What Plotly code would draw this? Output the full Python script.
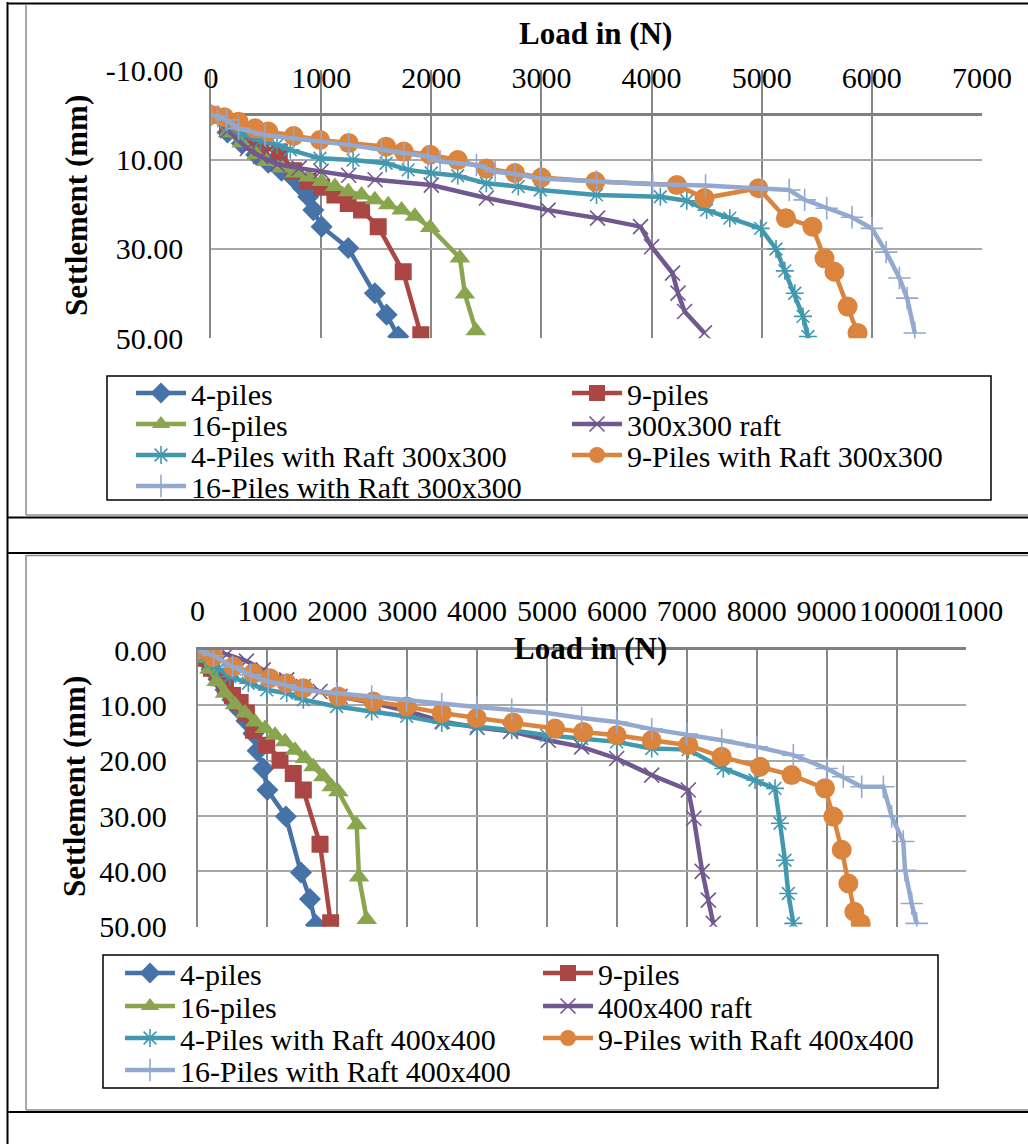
import plotly.graph_objects as go

W, H = 1028, 1144
FONT = "Liberation Serif"

# ---------------- Chart 1 data (300x300) ----------------
c1_names = ["4-piles", "9-piles", "16-piles", "300x300 raft",
            "4-Piles with Raft 300x300", "9-Piles with Raft 300x300",
            "16-Piles with Raft 300x300"]

c1_p4_load = [0, 150, 280, 410, 520, 640, 760, 830, 883, 929, 1004, 1246, 1488, 1594, 1700]
c1_p4_set = [0, 3.9, 6.4, 8.9, 10.7, 12.5, 14.4, 16.3, 18.3, 21.3, 25.0, 29.8, 39.9, 44.7, 49.6]

c1_p9_load = [0, 150, 300, 450, 620, 750, 883, 1004, 1125, 1246, 1367, 1518, 1745, 1905]
c1_p9_set = [0, 2.6, 5.2, 7.0, 8.3, 12.5, 14.9, 16.2, 17.9, 19.8, 21.3, 25.0, 35.1, 49.2]

c1_p16_load = [0, 154, 278, 414, 505, 641, 762, 883, 1004, 1125, 1246, 1367, 1488, 1609,
               1730, 1851, 1990, 2260, 2305, 2405]
c1_p16_set = [0, 4.0, 6.3, 8.9, 10.4, 11.9, 13.0, 13.9, 14.9, 16.0, 17.2, 17.9, 19.0, 20.1,
              21.3, 22.7, 25.2, 32.0, 40.1, 48.3]

c1_raft_load = [0, 150, 330, 450, 600, 800, 1000, 1250, 1490, 2000, 2500, 3060, 3510, 3900,
                4000, 4190, 4240, 4300, 4480]
c1_raft_set = [0, 3.5, 7.5, 9.3, 11.0, 11.9, 12.6, 13.5, 14.5, 15.7, 18.6, 21.3, 23.1, 25.0,
               29.5, 35.4, 39.9, 44.0, 48.8]

c1_pr4_load = [0, 150, 300, 450, 600, 720, 990, 1290, 1590, 1790, 2000, 2240, 2500, 2790,
               2990, 3500, 4080, 4320, 4500, 4710, 4990, 5130, 5210, 5300, 5375, 5420]
c1_pr4_set = [0, 2.5, 4.3, 5.8, 6.7, 7.8, 9.7, 10.1, 10.8, 12.3, 13.0, 13.6, 15.3, 16.0,
              16.8, 17.9, 18.3, 19.2, 21.3, 23.1, 25.4, 30.0, 34.9, 39.9, 45.1, 49.6]

c1_pr9_load = [0, 120, 250, 400, 520, 750, 990, 1250, 1590, 1750, 1990, 2240, 2500, 2760,
               3000, 3490, 4230, 4480, 4970, 5220, 5460, 5570, 5660, 5780, 5870]
c1_pr9_set = [0, 0.5, 1.5, 3.0, 3.7, 4.7, 5.6, 6.3, 7.1, 8.2, 8.9, 10.1, 12.0, 13.0,
              14.0, 14.9, 15.7, 18.6, 16.4, 23.1, 25.0, 32.1, 35.1, 42.9, 48.8]

c1_pr16_load = [0, 60, 140, 250, 490, 750, 1000, 1250, 1550, 1750, 1970, 2080, 2410, 2580,
                2760, 2990, 3500, 4010, 4490, 5000, 5250, 5390, 5590, 5820, 6000, 6130,
                6250, 6320, 6390]
c1_pr16_set = [0, 0.3, 1.1, 3.0, 4.5, 5.2, 6.0, 6.7, 7.8, 8.6, 9.3, 10.4, 11.2, 12.7,
               13.2, 14.2, 14.9, 15.5, 15.8, 16.4, 16.8, 19.0, 20.9, 22.9, 25.4, 30.7,
               36.5, 41.0, 48.8]

# ---------------- Chart 2 data (400x400) ----------------
c2_names = ["4-piles", "9-piles", "16-piles", "400x400 raft",
            "4-Piles with Raft 400x400", "9-Piles with Raft 400x400",
            "16-Piles with Raft 400x400"]

c2_p4_load = [0, 100, 200, 300, 400, 500, 600, 700, 800, 860, 940, 1000, 1265, 1480, 1609, 1695]
c2_p4_set = [0, 1.7, 3.5, 5.3, 7.2, 9.0, 10.8, 12.8, 15.1, 18.2, 21.4, 25.3, 30.1, 40.2, 45.0, 49.7]

c2_p9_load = [0, 100, 200, 300, 400, 500, 610, 700, 800, 990, 1180, 1370, 1514, 1753, 1905]
c2_p9_set = [0, 1.5, 3.3, 5.0, 6.7, 8.2, 9.5, 11.4, 14.5, 17.2, 19.9, 22.3, 25.3, 35.1, 49.3]

c2_p16_load = [0, 80, 170, 274, 393, 536, 680, 823, 966, 1109, 1252, 1395, 1538, 1657,
               1800, 1920, 2015, 2277, 2310, 2421]
c2_p16_set = [0, 1.5, 3.5, 5.7, 7.8, 9.9, 11.4, 13.0, 14.2, 15.4, 16.6, 18.1, 19.6, 21.1,
              22.9, 24.7, 25.6, 31.6, 41.0, 48.7]

c2_raft_load = [0, 200, 420, 700, 940, 1276, 1514, 1753, 2039, 2515, 3016, 3500, 4000, 4480,
                5018, 5496, 5997, 6498, 7021, 7100, 7220, 7308, 7379]
c2_raft_set = [0, 0.3, 0.8, 2.0, 3.6, 5.4, 6.6, 7.5, 8.4, 9.6, 11.1, 12.9, 14.0, 14.7,
               16.3, 17.5, 19.6, 22.6, 25.3, 30.4, 40.0, 45.2, 49.4]

c2_pr4_load = [0, 100, 200, 300, 465, 727, 990, 1276, 1514, 1991, 2492, 2993, 3494, 3994,
               4495, 4996, 5496, 5997, 6498, 7021, 7522, 7976, 8262, 8333, 8405, 8452, 8524]
c2_pr4_set = [0, 1.0, 2.2, 3.4, 4.8, 6.0, 7.2, 7.8, 9.0, 10.2, 11.1, 12.0, 13.2, 13.8,
              14.5, 15.4, 16.0, 16.6, 17.8, 18.0, 21.4, 23.5, 25.0, 31.3, 38.0, 44.0, 49.4]

c2_pr9_load = [0, 226, 512, 798, 1037, 1276, 1514, 2014, 2515, 2993, 3494, 3994, 4518, 5114,
               5519, 5997, 6498, 7021, 7499, 8047, 8500, 8977, 9096, 9216, 9311, 9397, 9488]
c2_pr9_set = [0, 1.2, 3.0, 4.2, 5.1, 6.0, 6.9, 8.4, 9.3, 10.2, 11.4, 12.3, 13.1, 14.2,
              14.8, 15.4, 16.3, 17.2, 19.3, 21.1, 22.6, 25.0, 30.1, 36.1, 42.2, 47.3, 49.4]

c2_pr16_load = [0, 230, 500, 760, 1013, 1252, 1500, 1991, 2492, 2993, 3494, 3994, 4495, 4996,
                5496, 5997, 6498, 6998, 7499, 8000, 8524, 9001, 9239, 9502, 9812, 9931,
                10097, 10122, 10217, 10289]
c2_pr16_set = [0, 1.0, 3.0, 4.5, 5.7, 6.3, 7.2, 7.8, 8.4, 9.2, 9.8, 10.3, 10.8, 11.4,
               12.3, 13.0, 14.3, 15.2, 16.3, 17.5, 19.0, 21.4, 22.9, 24.7, 24.7, 30.1,
               34.6, 39.8, 45.8, 49.4]

# tick labels
c1_y_tickvals = [-10, 10, 30, 50]
c1_y_ticktext = ["-10.00", "10.00", "30.00", "50.00"]
c2_y_tickvals = [0, 10, 20, 30, 40, 50]
c2_y_ticktext = ["0.00", "10.00", "20.00", "30.00", "40.00", "50.00"]
x_title = "Load in (N)"
y_title = "Settlement (mm)"

# ---------------- styles ----------------
colors = ["#4572A7", "#AA4643", "#89A54E", "#71588F", "#4198AF", "#DB843D", "#93A9CF"]
symbols = ["diamond", "square", "triangle-up", "x-thin-open", "asterisk-open", "circle", "cross-thin-open"]
msizes = [17, 17, 18, 15, 15, 20, 16]


def px_x(p):
    return p / W


def px_y(p):
    return 1 - p / H


fig = go.Figure()

c1_data = [(c1_p4_load, c1_p4_set), (c1_p9_load, c1_p9_set), (c1_p16_load, c1_p16_set),
           (c1_raft_load, c1_raft_set), (c1_pr4_load, c1_pr4_set), (c1_pr9_load, c1_pr9_set),
           (c1_pr16_load, c1_pr16_set)]
c2_data = [(c2_p4_load, c2_p4_set), (c2_p9_load, c2_p9_set), (c2_p16_load, c2_p16_set),
           (c2_raft_load, c2_raft_set), (c2_pr4_load, c2_pr4_set), (c2_pr9_load, c2_pr9_set),
           (c2_pr16_load, c2_pr16_set)]

# legend entry positions (px): left of entry, centre y
leg1_cols = [131, 567]
leg1_rows = [393, 424, 455, 486]
leg2_cols = [120, 538]
leg2_rows = [973, 1006, 1038, 1070]

legend_layouts = {}
k = 0
for chart, (data, names, cols, rows, xa, ya) in enumerate([
        (c1_data, c1_names, leg1_cols, leg1_rows, "x", "y"),
        (c2_data, c2_names, leg2_cols, leg2_rows, "x2", "y2")]):
    for i, ((lx, ly), nm) in enumerate(zip(data, names)):
        k += 1
        lname = "legend" if k == 1 else f"legend{k}"
        thin = symbols[i].endswith("open")
        fig.add_trace(go.Scatter(
            x=lx, y=ly, name=nm, mode="lines+markers", xaxis=xa, yaxis=ya,
            legend=lname,
            line=dict(color=colors[i], width=4.5),
            marker=dict(symbol=symbols[i], size=msizes[i], color=colors[i],
                        line=dict(color=colors[i], width=1.6 if thin else 0)),
        ))
        legend_layouts[lname] = dict(
            x=px_x(cols[i % 2]), y=px_y(rows[i // 2]), xanchor="left", yanchor="middle",
            bgcolor="rgba(0,0,0,0)", borderwidth=0, itemwidth=50,
            font=dict(family=FONT, size=30, color="black"),
        )

tickfont = dict(family=FONT, size=30, color="black")
grid_v = "#878787"
grid_h = "#A8A8A8"

fig.update_layout(
    width=W, height=H, margin=dict(l=0, r=0, t=0, b=0, autoexpand=False),
    paper_bgcolor="white", plot_bgcolor="white", showlegend=True,
    xaxis=dict(domain=[px_x(211), px_x(982)], range=[0, 7000], tick0=0, dtick=1000,
               side="top", anchor="y", showgrid=True, gridcolor=grid_v, gridwidth=1.5,
               zeroline=False, showline=False, ticks="", tickfont=tickfont,
               tickformat="d", automargin=False,
               tickangle=0, ticklabelstandoff=-25, fixedrange=True),
    yaxis=dict(domain=[px_y(338.3), px_y(70.3)], range=[50, -10], tickvals=c1_y_tickvals,
               ticktext=c1_y_ticktext, anchor="x", showgrid=True, gridcolor=grid_h,
               gridwidth=1.5, zeroline=True, zerolinecolor="#7F7F7F", zerolinewidth=2.5,
               showline=True, linecolor=grid_v, linewidth=1.5, ticks="", automargin=False,
               tickfont=tickfont, ticklabelstandoff=20),
    xaxis2=dict(domain=[px_x(197.5), px_x(966.4)], range=[0, 11000], tick0=0, dtick=1000,
                side="top", anchor="y2", showgrid=True, gridcolor=grid_v, gridwidth=1.5,
                zeroline=False, showline=True, linecolor="#7F7F7F", linewidth=2.5,
                tickformat="d", automargin=False,
                ticks="", tickfont=tickfont, tickangle=0, ticklabelstandoff=14),
    yaxis2=dict(domain=[px_y(926.7), px_y(650)], range=[50, 0], tickvals=c2_y_tickvals,
                ticktext=c2_y_ticktext, anchor="x2", showgrid=True, gridcolor=grid_h,
                gridwidth=1.5, zeroline=False, showline=True, linecolor=grid_v,
                linewidth=1.5, ticks="", tickfont=tickfont, ticklabelstandoff=23,
                automargin=False),
    **legend_layouts,
)

titlefont = dict(family=FONT, size=31, color="black")
for tx, (ax_, ay_), ang in [(x_title, (595, 33), 0), (x_title, (590, 648), 0),
                            (y_title, (76, 206), -90), (y_title, (74, 787), -90)]:
    fig.add_annotation(text=f"<b>{tx}</b>", x=px_x(ax_), y=px_y(ay_), xref="paper",
                       yref="paper", xanchor="center", yanchor="middle", showarrow=False,
                       font=titlefont, textangle=ang)


def hline(y, x0, x1, color, w):
    fig.add_shape(type="line", xref="paper", yref="paper", x0=px_x(x0), x1=px_x(x1),
                  y0=px_y(y), y1=px_y(y), line=dict(color=color, width=w))


def vline(x, y0, y1, color, w):
    fig.add_shape(type="line", xref="paper", yref="paper", x0=px_x(x), x1=px_x(x),
                  y0=px_y(y0), y1=px_y(y1), line=dict(color=color, width=w))


# table frame and chart-area borders
vline(7.5, 2, 1144, "black", 2)
hline(3.5, 7, 1028, "black", 2)
vline(26, 4, 515, "#8C8C8C", 1.5)
hline(515, 26, 1028, "#8C8C8C", 1.5)
hline(517.5, 7, 1028, "black", 2)
hline(553, 7, 1028, "black", 2)
vline(26, 555, 1110, "#8C8C8C", 1.5)
hline(555.5, 26, 1028, "#8C8C8C", 1.5)
hline(1110, 26, 1028, "#8C8C8C", 1.5)
hline(1112, 7, 1028, "black", 2)

# legend boxes
fig.add_shape(type="rect", xref="paper", yref="paper", x0=px_x(107), x1=px_x(991),
              y0=px_y(500), y1=px_y(376), line=dict(color="black", width=1.5))
fig.add_shape(type="rect", xref="paper", yref="paper", x0=px_x(103), x1=px_x(938),
              y0=px_y(1088), y1=px_y(955), line=dict(color="black", width=1.5))

fig.write_html("out.html", config={"displayModeBar": False},
               post_script="document.body.style.margin='0';")
